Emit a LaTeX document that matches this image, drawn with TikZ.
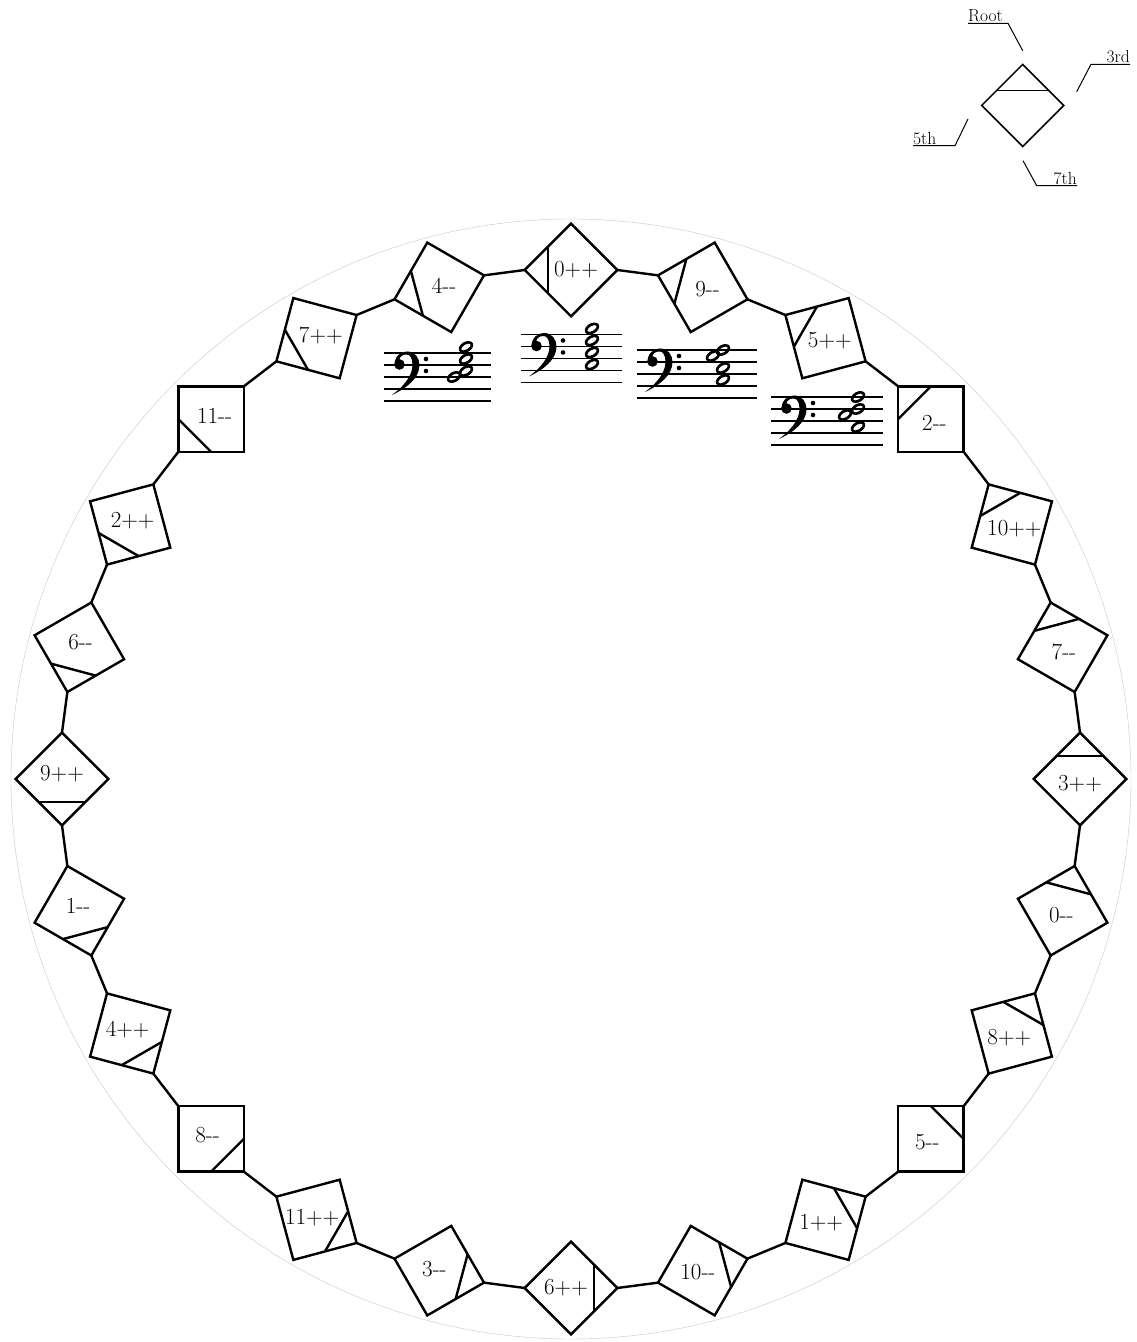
\documentclass[tikz,border=0pt]{standalone}
\usepackage{fontspec}
\usepackage{tikz}
\usetikzlibrary{calc}

\tikzset{
  chord/.style={draw, rectangle, minimum size=65.5pt, inner sep=0pt, outer sep=0pt, line width=2.4pt},
  chordlbl/.style={inner sep=0pt, text=black, font=\fontsize{23}{23}\selectfont},
  link/.style={line width=2.4pt},
  keybox/.style={draw, rectangle, minimum size=58pt, inner sep=0pt, outer sep=0pt, line width=1.5pt, rotate=45},
  keylbl/.style={inner xsep=0pt, inner ysep=1pt, font=\fontsize{17.5}{17.5}\selectfont},
  leader/.style={line width=1pt},
  staffline/.style={line width=1.8pt},
  clef/.pic={
    \fill (10.5,36) .. controls (10.5,45) and (17,49.5) .. (23,49.5)
      .. controls (31,49.5) and (35.5,43) .. (35.5,36)
      .. controls (35.5,23) and (23,13) .. (8,6)
      .. controls (19,14) and (28.5,25) .. (28.5,36)
      .. controls (28.5,43) and (26,46.5) .. (22.5,46.5)
      .. controls (18.5,46.5) and (16,44.5) .. (15,41) -- cycle;
    \fill (15.5,36.5) circle (5.3);
    \fill (42,42) circle (2.3) (42,30) circle (2.3);
  },
  wnote/.pic={
    \fill[even odd rule, rotate=30] (0,0) ellipse [x radius=7.8, y radius=5.2]
      (0,0) ellipse [x radius=5.3, y radius=2.5];
  }
}

\begin{document}
\begin{tikzpicture}[x=1pt, y=1pt]
  \useasboundingbox (0,0) rectangle (1136,1342);
  \coordinate (hub) at (571,563);
  \draw[gray!45, line width=0.4pt] (hub) circle (560);

  \foreach \lbl [count=\k from 0] in {0++, 9-{}-, 5++, 2-{}-, 10++, 7-{}-, 3++, 0-{}-, 8++, 5-{}-, 1++, 10-{}-,
      6++, 3-{}-, 11++, 8-{}-, 4++, 1-{}-, 9++, 6-{}-, 2++, 11-{}-, 7++, 4-{}-} {
    \pgfmathsetmacro\ang{90-15*\k}
    \pgfmathsetmacro\rot{135-15*\k}
    \node[chord, rotate=\rot] (ch\k) at ($(hub)+(\ang:509)$) {};
    \draw[link] (ch\k.north) -- (ch\k.east);
    \node[chordlbl] (lbl\k) at ($(ch\k.center)!5pt!(ch\k.south west)$) {\lbl};
  }
  \foreach \k in {0,...,23} {
    \pgfmathtruncatemacro\nxt{mod(\k+1,24)}
    \draw[link] (ch\k.south west) -- (ch\nxt.north east);
  }

  \node[keybox] (key) at (1022.7,1236.5) {};
  \draw[line width=1.5pt] ($(key.north east)!0.63!(key.north west)$) -- ($(key.north east)!0.63!(key.south east)$);
  \node[keylbl, anchor=south west] (rootlbl) at (968,1318.7) {Root};
  \node[keylbl, anchor=south east] (thirdlbl) at (1130,1277.7) {3rd};
  \node[keylbl, anchor=south west] (fifthlbl) at (913,1196.3) {5th};
  \node[keylbl, anchor=south east] (seventhlbl) at (1077,1156.3) {7th};
  \coordinate (roottip) at (1022.7,1291.3);
  \coordinate (thirdtip) at (1076.7,1250.3);
  \coordinate (fifthtip) at (968,1223);
  \coordinate (seventhtip) at (1023,1181.3);
  \draw[leader] (rootlbl.south west) -- ++(40,0) -- (roottip);
  \draw[leader] (thirdlbl.south east) -- ++(-39,0) -- (thirdtip);
  \draw[leader] (fifthlbl.south west) -- ++(42,0) -- (fifthtip);
  \draw[leader] (seventhlbl.south east) -- ++(-40.3,0) -- (seventhtip);

  \begin{scope}[shift={(384,941)}]
    \foreach \n in {0,...,4} \draw[staffline] (0,12*\n) -- (107,12*\n);
    \pic at (0,0) {clef};
    \pic at (82,30) {wnote}; \pic at (82,42) {wnote}; \pic at (82,54) {wnote};
    \pic at (70,24) {wnote};
  \end{scope}
  \begin{scope}[shift={(521,959.5)}]
    \foreach \n in {0,...,4} \draw[staffline] (0,12*\n) -- (101,12*\n);
    \pic at (0,0) {clef};
    \pic at (71,18) {wnote}; \pic at (71,30) {wnote}; \pic at (71,42) {wnote}; \pic at (71,54) {wnote};
  \end{scope}
  \begin{scope}[shift={(637,944)}]
    \foreach \n in {0,...,4} \draw[staffline] (0,12*\n) -- (120,12*\n);
    \pic at (0,0) {clef};
    \pic at (86,18) {wnote}; \pic at (86,30) {wnote}; \pic at (86,48) {wnote};
    \pic at (76,42) {wnote};
  \end{scope}
  \begin{scope}[shift={(771,897)}]
    \foreach \n in {0,...,4} \draw[staffline] (0,12*\n) -- (112,12*\n);
    \pic at (0,0) {clef};
    \pic at (87,18) {wnote}; \pic at (87,36) {wnote}; \pic at (87,48) {wnote};
    \pic at (74,30) {wnote};
  \end{scope}
\end{tikzpicture}
\end{document}
